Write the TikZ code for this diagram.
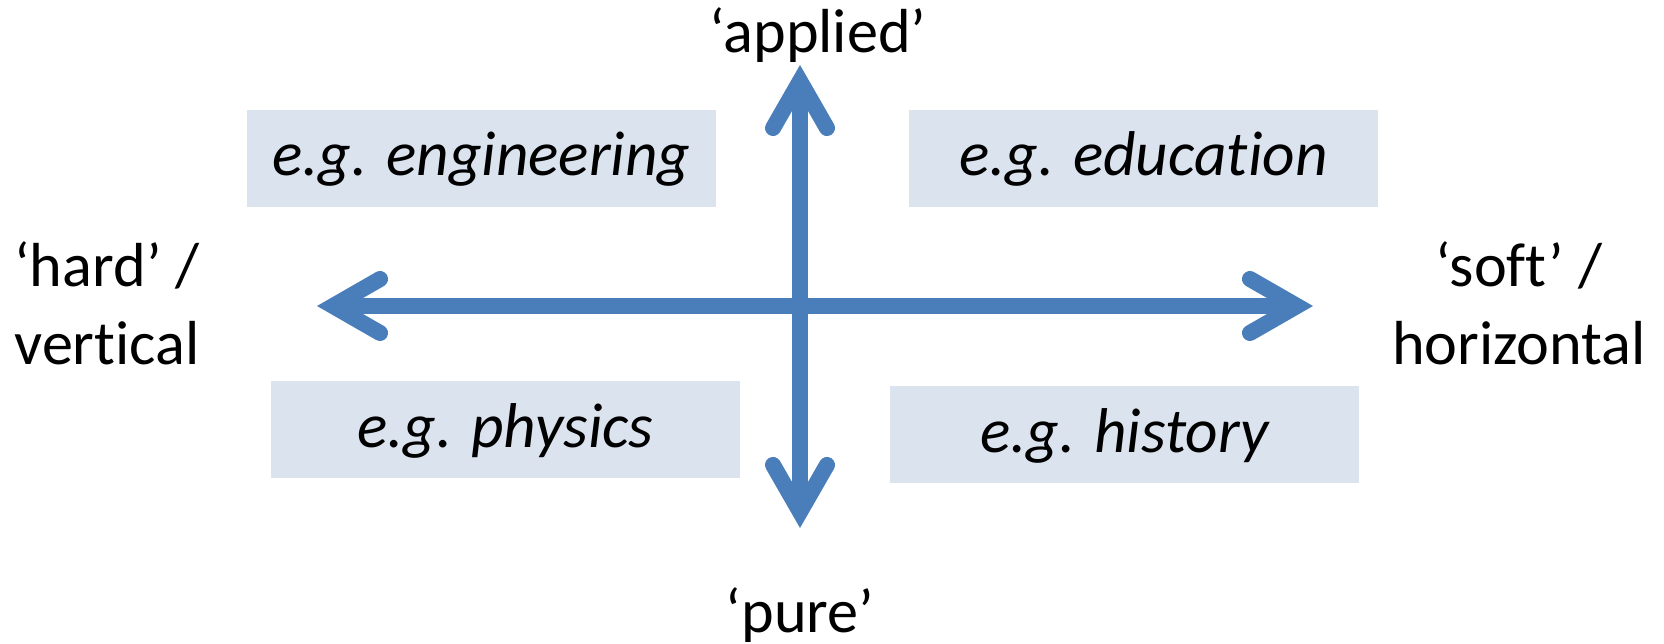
\documentclass[tikz,border=0pt]{standalone}
\usepackage{fontspec}
\setmainfont{Carlito}[Ligatures=NoCommon]
\usetikzlibrary{arrows.meta,positioning}
\definecolor{ink}{HTML}{000000}
\definecolor{axisblue}{HTML}{4A7EBB}
\definecolor{quadfill}{HTML}{DBE3EF}
\tikzset{
  barb/.tip={Straight Barb[length=4.7mm, width=5.4mm, line cap=round, line join=miter]},
  quad/.style={fill=quadfill, minimum width=46.9mm, minimum height=9.7mm, inner sep=0pt, text height=1.07em, text depth=0.1em, font=\fontsize{18}{20}\selectfont\itshape},
  pole/.style={text=ink, align=center, inner sep=0pt, anchor=base, font=\fontsize{17.7}{22.2}\selectfont},
  axis/.style={barb-barb, line width=1.6mm, draw=axisblue}
}

\begin{document}
\begin{tikzpicture}[x=0.1mm, y=-0.1mm]
  \useasboundingbox (0,0) rectangle (1664,644);

  % quadrant boxes
  \node[quad] (engineering) at (481.5,158.5) {e.g. engineering};
  \node[quad] (education) at (1143.5,158.5) {e.g. education};
  \node[quad] (physics) at (505.5,430) {e.g. physics};
  \node[quad] (history) at (1124.5,435) {e.g. history};

  % axis ends
  \coordinate (west) at (317,306);
  \coordinate (east) at (1313,306);
  \coordinate (north) at (800,65);
  \coordinate (south) at (800,528);

  \draw[axis] (west) -- (east);
  \draw[axis] (south) -- (north);

  % pole labels
  \node[pole] (applied) at (818,53) {‘applied’};
  \node[pole] (pure) at (800,633) {‘pure’};
  \node[pole] (hard) at (107,365) {‘hard’ /\\vertical};
  \node[pole] (soft) at (1519,365) {‘soft’ /\\horizontal};
\end{tikzpicture}
\end{document}
